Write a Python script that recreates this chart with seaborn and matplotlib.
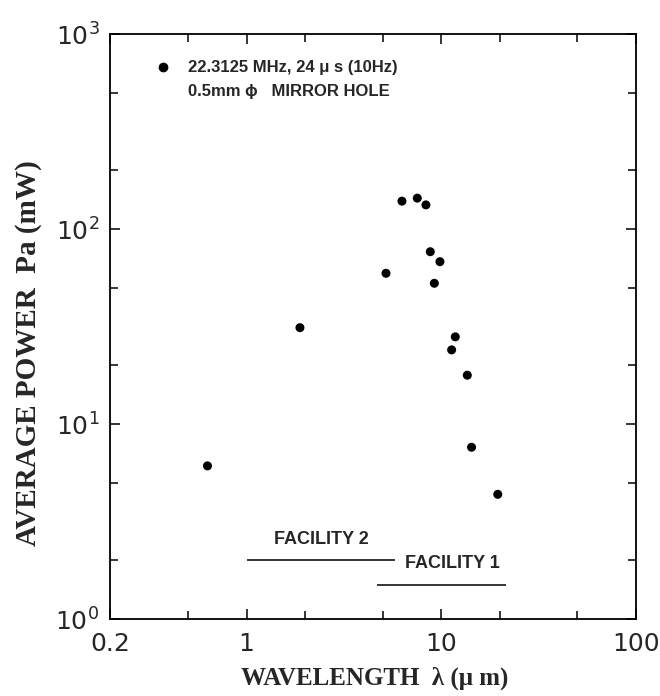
import matplotlib
matplotlib.use("Agg")
import matplotlib.pyplot as plt
from matplotlib.lines import Line2D
from matplotlib.ticker import FixedLocator, FixedFormatter, NullFormatter
import seaborn as sns
import pandas as pd

# wavelength (um) vs average power (mW)
wavelength = [0.63, 1.88, 5.2, 6.28, 7.53, 8.34, 8.78, 9.84, 9.21,
              11.8, 11.3, 13.6, 14.3, 19.5]
power = [6.1, 31.2, 59.3, 139, 144, 133, 76.5, 68, 52.7,
         28.0, 24.0, 17.8, 7.6, 4.36]

facility_names = ["FACILITY 2", "FACILITY 1"]
facility_start = [1.0, 4.7]
facility_end = [5.8, 21.5]
facility_level = [2.0, 1.5]

legend_lines = ["22.3125 MHz, 24 \u03bc s (10Hz)", "0.5mm \u03d5   MIRROR HOLE"]

x_major = [0.2, 1, 10, 100]
x_major_labels = ["0.2", "1", "10", "100"]
x_minor = [0.5, 2, 5, 20, 50]
y_major = [1, 10, 100, 1000]
y_major_labels = [r"$\mathdefault{10^{0}}$", r"$\mathdefault{10^{1}}$",
                  r"$\mathdefault{10^{2}}$", r"$\mathdefault{10^{3}}$"]
y_minor = [2, 5, 20, 50, 200, 500]


if __name__ == "__main__":
    sns.set_theme(style="ticks")
    plt.rcParams["font.family"] = ["DejaVu Sans"]
    plt.rcParams["mathtext.fontset"] = "dejavusans"

    df = pd.DataFrame({"wavelength": wavelength, "power": power})

    fig = plt.figure(figsize=(6.6, 6.96), dpi=100)
    ax = fig.add_axes([0.1673, 0.1106, 0.7964, 0.8405])

    sns.scatterplot(data=df, x="wavelength", y="power", color="black",
                    s=42, edgecolor="none", legend=False, ax=ax)

    ax.set_xscale("log")
    ax.set_yscale("log")
    ax.set_xlim(0.2, 100)
    ax.set_ylim(1, 1000)

    ax.xaxis.set_major_locator(FixedLocator(x_major))
    ax.xaxis.set_major_formatter(FixedFormatter(x_major_labels))
    ax.xaxis.set_minor_locator(FixedLocator(x_minor))
    ax.xaxis.set_minor_formatter(NullFormatter())
    ax.yaxis.set_major_locator(FixedLocator(y_major))
    ax.yaxis.set_major_formatter(FixedFormatter(y_major_labels))
    ax.yaxis.set_minor_locator(FixedLocator(y_minor))
    ax.yaxis.set_minor_formatter(NullFormatter())

    ax.tick_params(which="both", direction="in", top=True, right=True,
                   width=1.1, color="black", labelsize=18)
    ax.tick_params(which="major", length=7.2)
    ax.tick_params(which="minor", length=5.5)
    ax.tick_params(axis="x", which="major", pad=9)
    ax.tick_params(axis="y", which="major", pad=8)
    for sp in ax.spines.values():
        sp.set_linewidth(1.3)
        sp.set_color("black")

    # facility wavelength ranges
    ax.hlines(facility_level, facility_start, facility_end,
              color="black", linewidth=1.1)
    for i, name in enumerate(facility_names):
        xc = (facility_start[i] * facility_end[i]) ** 0.5
        if i == 1:
            xc *= 1.14
        ax.text(xc, facility_level[i] * 1.28, name, ha="center", va="center",
                fontsize=13, fontweight="bold",
                family=["Liberation Sans", "DejaVu Sans"])

    handles = [Line2D([], [], marker="o", linestyle="none", color="black",
                      markersize=6),
               Line2D([], [], linestyle="none")]
    leg = ax.legend(handles, legend_lines, loc="upper left",
                    bbox_to_anchor=(0.0837, 0.955), frameon=False,
                    borderpad=0, borderaxespad=0, handlelength=1.0,
                    handletextpad=1.03, labelspacing=0.5,
                    prop={"family": ["Liberation Sans", "DejaVu Sans"],
                          "weight": "bold", "size": 12})

    ax.set_xlabel("WAVELENGTH  \u03bb (\u03bc m)", fontsize=18,
                  fontweight="bold", family=["Liberation Serif", "DejaVu Serif"])
    ax.set_ylabel("AVERAGE POWER  Pa (mW)", fontsize=21,
                  fontweight="bold", family=["Liberation Serif", "DejaVu Serif"])
    ax.xaxis.set_label_coords(0.503, -0.082)
    ax.yaxis.set_label_coords(-0.13, 0.455)

    fig.savefig("out.png", dpi=100)
